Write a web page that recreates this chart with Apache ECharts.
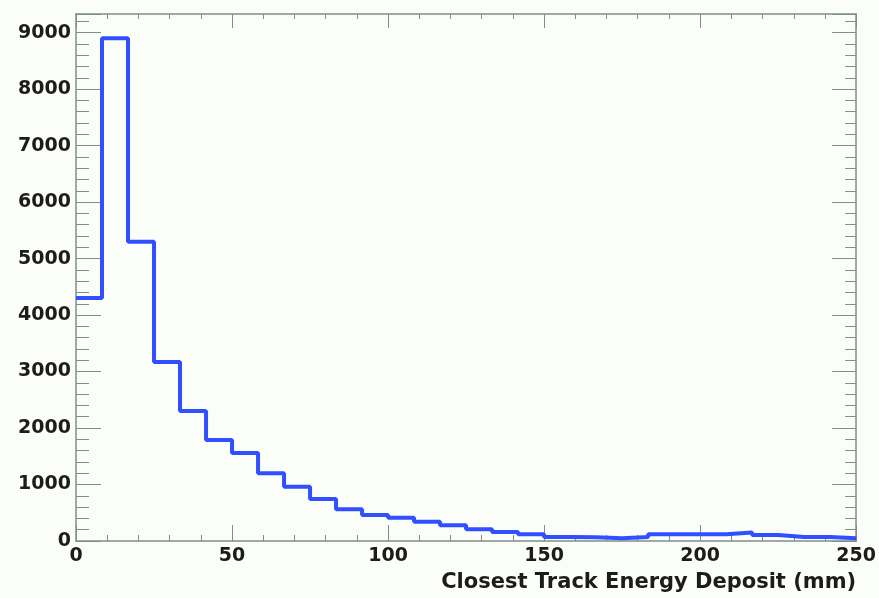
<!DOCTYPE html>
<html>
<head>
<meta charset="utf-8">
<script src="https://cdn.jsdelivr.net/npm/echarts@6/dist/echarts.min.js"></script>
<style>
  html, body { margin: 0; padding: 0; background: #fbfdf8; }
  #chart { width: 879px; height: 598px; }
</style>
</head>
<body>
<div id="chart"></div>
<script>
// histogram: 30 bins from 0 to 250
var xMin = 0
var xMax = 250
var counts = [4300, 8900, 5300, 3170, 2300, 1790, 1560, 1200, 960, 745,
  560, 460, 410, 340, 280, 210, 160, 120, 70, 65,
  50, 70, 120, 120, 120, 150, 105, 70, 70, 50]
var xTicks = [0, 50, 100, 150, 200, 250]
var yTicks = [0, 1000, 2000, 3000, 4000, 5000, 6000, 7000, 8000, 9000]
var xTitle = 'Closest Track Energy Deposit (mm)'

var binWidth = (xMax - xMin) / counts.length
var stepData = counts.map(function(v, i) { return [xMin + i * binWidth, v] })
stepData.push([xMax, counts[counts.length - 1]])

var frameColor = '#7f8e8a'
var labelFont = {
  fontFamily: 'DejaVu Sans',
  fontWeight: 'bold',
  fontSize: 19,
  color: '#1c1c1c'
}

function axisBase(extra) {
  var base = {
    type: 'value',
    axisLine: { show: true, onZero: false, lineStyle: { color: frameColor, width: 1.5 } },
    splitLine: { show: false },
    minorSplitLine: { show: false }
  }
  return Object.assign(base, extra)
}

var chart = echarts.init(document.getElementById('chart'))
chart.setOption({
  backgroundColor: '#fbfdf8',
  animation: false,
  grid: { left: 76, right: 22, top: 14, bottom: 57 },
  xAxis: [
    axisBase({
      position: 'bottom',
      min: xMin,
      max: xMax,
      interval: xTicks[1] - xTicks[0],
      axisTick: { show: true, inside: true, length: 16, lineStyle: { color: frameColor } },
      minorTick: { show: true, splitNumber: 5, length: 6, lineStyle: { color: frameColor } },
      axisLabel: Object.assign({ margin: 6 }, labelFont),
      name: xTitle,
      nameLocation: 'end',
      nameGap: 0,
      nameTextStyle: Object.assign({
        align: 'right',
        verticalAlign: 'top',
        padding: [31, 0, 0, 0]
      }, labelFont, { fontSize: 21 })
    }),
    axisBase({
      position: 'top',
      min: xMin,
      max: xMax,
      interval: xTicks[1] - xTicks[0],
      axisTick: { show: true, inside: true, length: 14, lineStyle: { color: frameColor } },
      minorTick: { show: true, splitNumber: 5, length: 5, lineStyle: { color: frameColor } },
      axisLabel: { show: false }
    })
  ],
  yAxis: [
    axisBase({
      position: 'left',
      min: 0,
      max: 9330,
      interval: yTicks[1] - yTicks[0],
      axisTick: { show: true, inside: true, length: 25, lineStyle: { color: frameColor } },
      minorTick: { show: true, splitNumber: 5, length: 13, lineStyle: { color: frameColor } },
      axisLabel: Object.assign({
        margin: 5,
        formatter: function(v) { return yTicks.indexOf(v) >= 0 ? String(v) : '' }
      }, labelFont)
    }),
    axisBase({
      position: 'right',
      min: 0,
      max: 9330,
      interval: yTicks[1] - yTicks[0],
      axisTick: { show: true, inside: true, length: 24, lineStyle: { color: frameColor } },
      minorTick: { show: true, splitNumber: 5, length: 11, lineStyle: { color: frameColor } },
      axisLabel: { show: false }
    })
  ],
  series: [
    {
      type: 'line',
      step: 'end',
      xAxisIndex: 0,
      yAxisIndex: 0,
      data: stepData,
      showSymbol: false,
      lineStyle: { color: '#3050ff', width: 4 },
      z: 1
    }
  ]
})
</script>
</body>
</html>
